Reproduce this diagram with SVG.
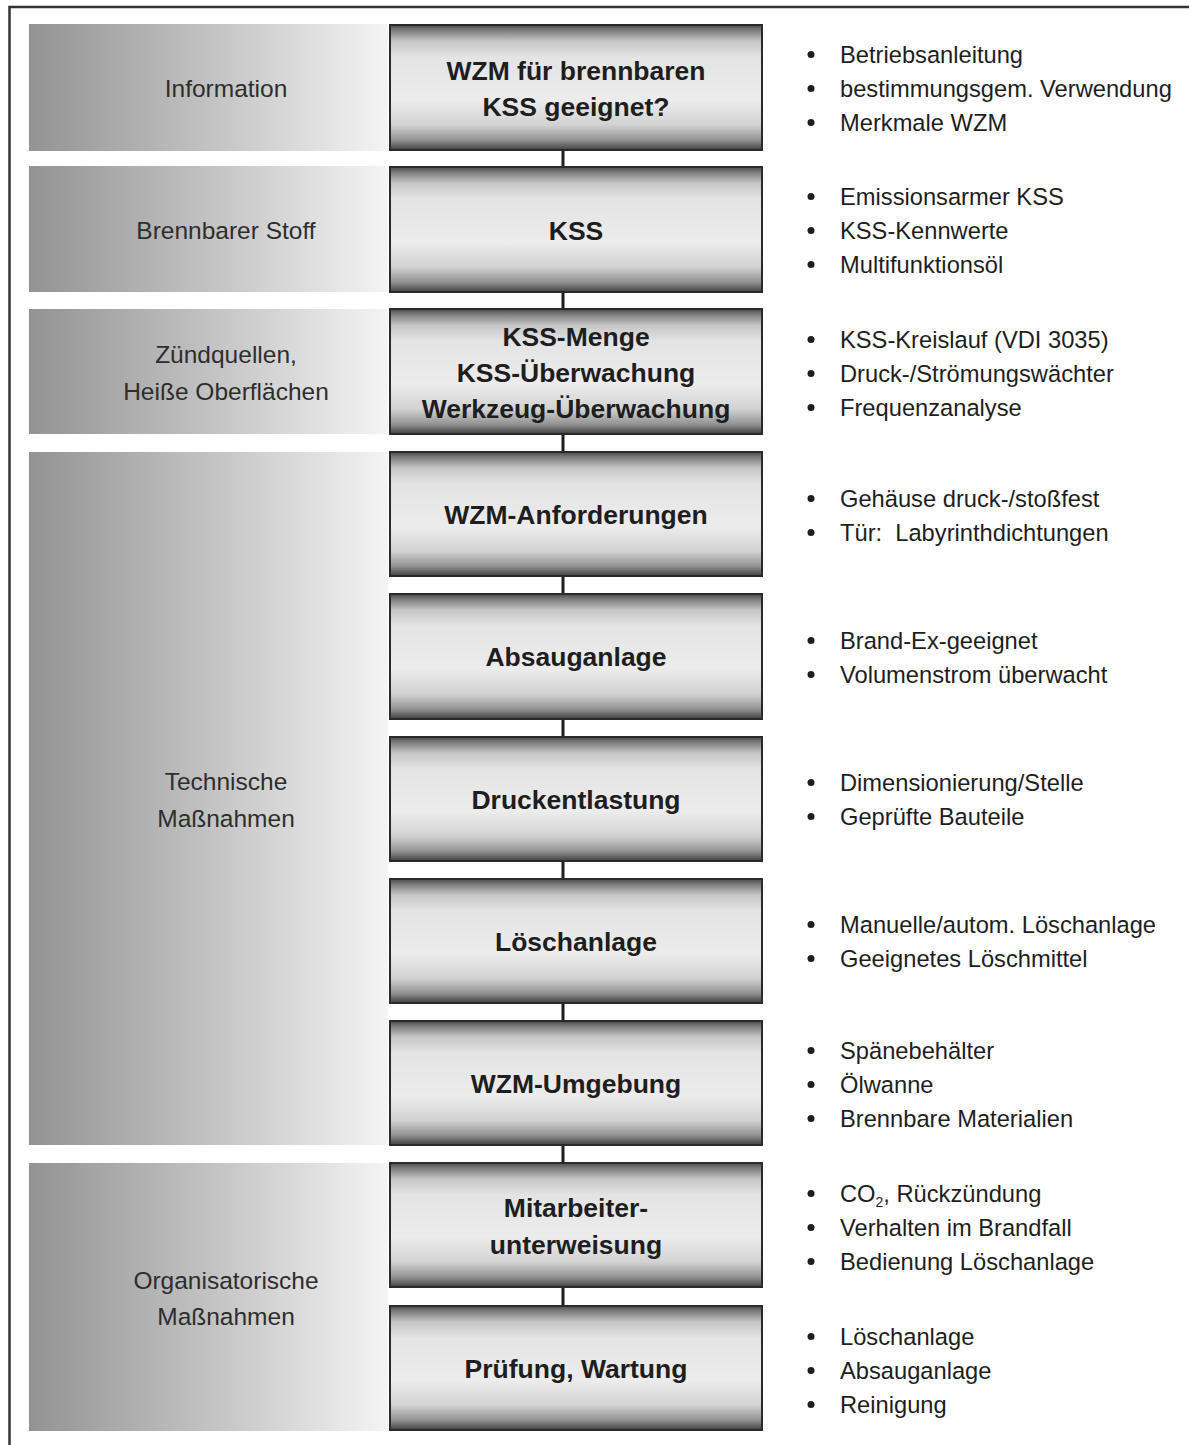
<svg xmlns="http://www.w3.org/2000/svg" width="1189" height="1445" viewBox="0 0 1189 1445">
<defs>
<linearGradient id="band" x1="0" y1="0" x2="1" y2="0">
<stop offset="0" stop-color="#939393"/>
<stop offset="0.5" stop-color="#c2c2c2"/>
<stop offset="1" stop-color="#f4f4f4"/>
</linearGradient>
<linearGradient id="box" x1="0" y1="0" x2="0" y2="1">
<stop offset="0" stop-color="#4a4a4a"/>
<stop offset="0.04" stop-color="#7a7a7a"/>
<stop offset="0.13" stop-color="#c6c6c6"/>
<stop offset="0.26" stop-color="#e4e4e4"/>
<stop offset="0.6" stop-color="#ececec"/>
<stop offset="0.8" stop-color="#d2d2d2"/>
<stop offset="0.92" stop-color="#939393"/>
<stop offset="1" stop-color="#404040"/>
</linearGradient>
<style>
.band{fill:url(#band)}
.box{fill:url(#box);stroke:#2a2a2a;stroke-width:2}
.lbl{font-family:"Liberation Sans",Arial,sans-serif;font-size:24.5px;fill:#2e2e2e;text-anchor:middle}
.ttl{font-family:"Liberation Sans",Arial,sans-serif;font-size:26.5px;font-weight:bold;fill:#1e1e1e;text-anchor:middle}
.itm{font-family:"Liberation Sans",Arial,sans-serif;font-size:23.7px;fill:#1e1e1e;white-space:pre}
.dot{fill:#1e1e1e}
.con{stroke:#1e1e1e;stroke-width:3;fill:none}
.frame{stroke:#333;stroke-width:2.5;fill:none}
</style>
</defs>
<rect width="1189" height="1445" fill="#fff"/>
<path class="frame" d="M9.5,1445 V7 H1189"/>

<g id="bands">
<g id="band-information"><rect class="band" x="29" y="24" width="359" height="127"/><text class="lbl" x="226" y="97">Information</text></g>
<g id="band-stoff"><rect class="band" x="29" y="166" width="359" height="126"/><text class="lbl" x="226" y="239">Brennbarer Stoff</text></g>
<g id="band-zuend"><rect class="band" x="29" y="309" width="359" height="125"/><text class="lbl" x="226" y="363">Zündquellen,</text><text class="lbl" x="226" y="400">Heiße Oberflächen</text></g>
<g id="band-technik"><rect class="band" x="29" y="452" width="359" height="693"/><text class="lbl" x="226" y="790">Technische</text><text class="lbl" x="226" y="827">Maßnahmen</text></g>
<g id="band-orga"><rect class="band" x="29" y="1163" width="359" height="268"/><text class="lbl" x="226" y="1289">Organisatorische</text><text class="lbl" x="226" y="1325">Maßnahmen</text></g>
</g>

<g id="connectors">
<line class="con" x1="563" y1="150" x2="563" y2="167"/>
<line class="con" x1="563" y1="292" x2="563" y2="309"/>
<line class="con" x1="563" y1="434" x2="563" y2="452"/>
<line class="con" x1="563" y1="576" x2="563" y2="594"/>
<line class="con" x1="563" y1="719" x2="563" y2="737"/>
<line class="con" x1="563" y1="861" x2="563" y2="879"/>
<line class="con" x1="563" y1="1003" x2="563" y2="1021"/>
<line class="con" x1="563" y1="1145" x2="563" y2="1163"/>
<line class="con" x1="563" y1="1287" x2="563" y2="1306"/>
</g>

<g id="node1"><rect class="box" x="390" y="25" width="372" height="125"/><text class="ttl" x="576" y="80">WZM für brennbaren</text><text class="ttl" x="576" y="116">KSS geeignet?</text></g>
<g id="node2"><rect class="box" x="390" y="167" width="372" height="125"/><text class="ttl" x="576" y="239.5">KSS</text></g>
<g id="node3"><rect class="box" x="390" y="309" width="372" height="125"/><text class="ttl" x="576" y="346">KSS-Menge</text><text class="ttl" x="576" y="382">KSS-Überwachung</text><text class="ttl" x="576" y="418">Werkzeug-Überwachung</text></g>
<g id="node4"><rect class="box" x="390" y="452" width="372" height="124"/><text class="ttl" x="576" y="523.5">WZM-Anforderungen</text></g>
<g id="node5"><rect class="box" x="390" y="594" width="372" height="125"/><text class="ttl" x="576" y="666">Absauganlage</text></g>
<g id="node6"><rect class="box" x="390" y="737" width="372" height="124"/><text class="ttl" x="576" y="808.5">Druckentlastung</text></g>
<g id="node7"><rect class="box" x="390" y="879" width="372" height="124"/><text class="ttl" x="576" y="950.5">Löschanlage</text></g>
<g id="node8"><rect class="box" x="390" y="1021" width="372" height="124"/><text class="ttl" x="576" y="1092.5">WZM-Umgebung</text></g>
<g id="node9"><rect class="box" x="390" y="1163" width="372" height="124"/><text class="ttl" x="576" y="1216.5">Mitarbeiter-</text><text class="ttl" x="576" y="1253.5">unterweisung</text></g>
<g id="node10"><rect class="box" x="390" y="1306" width="372" height="124"/><text class="ttl" x="576" y="1377.5">Prüfung, Wartung</text></g>

<g id="lists">
<g id="list1">
<circle class="dot" cx="811" cy="54.5" r="3.5"/><text class="itm" x="840" y="62.5">Betriebsanleitung</text>
<circle class="dot" cx="811" cy="88.5" r="3.5"/><text class="itm" x="840" y="96.5">bestimmungsgem. Verwendung</text>
<circle class="dot" cx="811" cy="122.5" r="3.5"/><text class="itm" x="840" y="130.5">Merkmale WZM</text>
</g>
<g id="list2">
<circle class="dot" cx="811" cy="196.5" r="3.5"/><text class="itm" x="840" y="204.5">Emissionsarmer KSS</text>
<circle class="dot" cx="811" cy="230.5" r="3.5"/><text class="itm" x="840" y="238.5">KSS-Kennwerte</text>
<circle class="dot" cx="811" cy="264.5" r="3.5"/><text class="itm" x="840" y="272.5">Multifunktionsöl</text>
</g>
<g id="list3">
<circle class="dot" cx="811" cy="339.5" r="3.5"/><text class="itm" x="840" y="347.5">KSS-Kreislauf (VDI 3035)</text>
<circle class="dot" cx="811" cy="373.5" r="3.5"/><text class="itm" x="840" y="381.5">Druck-/Strömungswächter</text>
<circle class="dot" cx="811" cy="407.5" r="3.5"/><text class="itm" x="840" y="415.5">Frequenzanalyse</text>
</g>
<g id="list4">
<circle class="dot" cx="811" cy="498.5" r="3.5"/><text class="itm" x="840" y="506.5">Gehäuse druck-/stoßfest</text>
<circle class="dot" cx="811" cy="532.5" r="3.5"/><text class="itm" x="840" y="540.5">Tür:  Labyrinthdichtungen</text>
</g>
<g id="list5">
<circle class="dot" cx="811" cy="640.5" r="3.5"/><text class="itm" x="840" y="648.5">Brand-Ex-geeignet</text>
<circle class="dot" cx="811" cy="674.5" r="3.5"/><text class="itm" x="840" y="682.5">Volumenstrom überwacht</text>
</g>
<g id="list6">
<circle class="dot" cx="811" cy="782.5" r="3.5"/><text class="itm" x="840" y="790.5">Dimensionierung/Stelle</text>
<circle class="dot" cx="811" cy="816.5" r="3.5"/><text class="itm" x="840" y="824.5">Geprüfte Bauteile</text>
</g>
<g id="list7">
<circle class="dot" cx="811" cy="924.5" r="3.5"/><text class="itm" x="840" y="932.5">Manuelle/autom. Löschanlage</text>
<circle class="dot" cx="811" cy="958.5" r="3.5"/><text class="itm" x="840" y="966.5">Geeignetes Löschmittel</text>
</g>
<g id="list8">
<circle class="dot" cx="811" cy="1050.5" r="3.5"/><text class="itm" x="840" y="1058.5">Spänebehälter</text>
<circle class="dot" cx="811" cy="1084.5" r="3.5"/><text class="itm" x="840" y="1092.5">Ölwanne</text>
<circle class="dot" cx="811" cy="1118.5" r="3.5"/><text class="itm" x="840" y="1126.5">Brennbare Materialien</text>
</g>
<g id="list9">
<circle class="dot" cx="811" cy="1193.5" r="3.5"/><text class="itm" x="840" y="1201.5">CO<tspan font-size="14" dy="5">2</tspan><tspan dy="-5">, Rückzündung</tspan></text>
<circle class="dot" cx="811" cy="1227.5" r="3.5"/><text class="itm" x="840" y="1235.5">Verhalten im Brandfall</text>
<circle class="dot" cx="811" cy="1261.5" r="3.5"/><text class="itm" x="840" y="1269.5">Bedienung Löschanlage</text>
</g>
<g id="list10">
<circle class="dot" cx="811" cy="1336.5" r="3.5"/><text class="itm" x="840" y="1344.5">Löschanlage</text>
<circle class="dot" cx="811" cy="1370.5" r="3.5"/><text class="itm" x="840" y="1378.5">Absauganlage</text>
<circle class="dot" cx="811" cy="1404.5" r="3.5"/><text class="itm" x="840" y="1412.5">Reinigung</text>
</g>
</g>
</svg>
